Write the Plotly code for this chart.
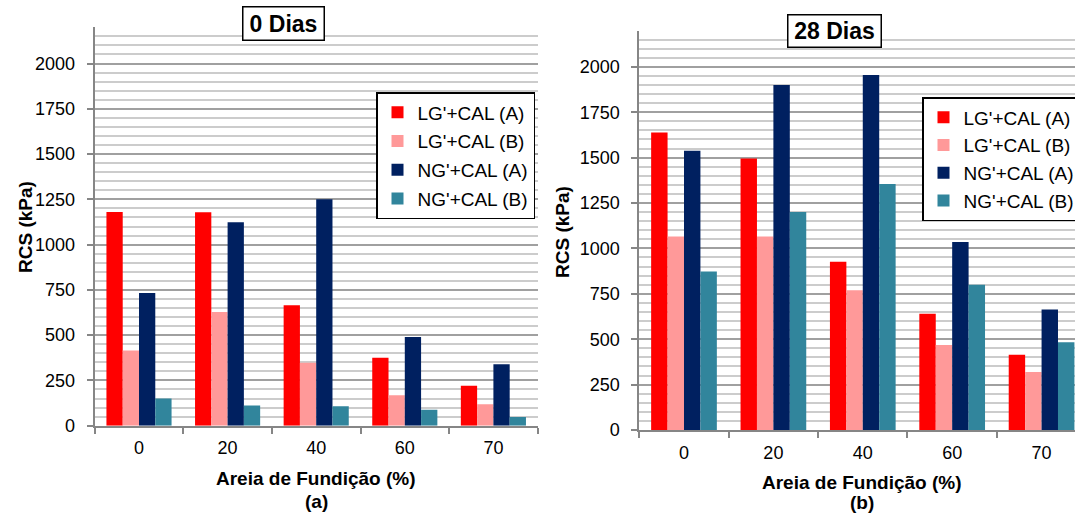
import plotly.graph_objects as go

# Sand content (%) on the category axis
categories = ["0", "20", "40", "60", "70"]

series_names = ["LG'+CAL (A)", "LG'+CAL (B)", "NG'+CAL (A)", "NG'+CAL (B)"]
series_colors = ["#FF0000", "#FF9999", "#002060", "#31859C"]

# Unconfined compressive strength (kPa), 0 days of curing
lg_a_0d = [1180, 1178, 665, 375, 220]
lg_b_0d = [415, 628, 348, 168, 118]
ng_a_0d = [733, 1123, 1250, 490, 340]
ng_b_0d = [150, 112, 108, 88, 48]

# Unconfined compressive strength (kPa), 28 days of curing
lg_a_28d = [1638, 1495, 927, 640, 415]
lg_b_28d = [1065, 1065, 770, 468, 320]
ng_a_28d = [1538, 1900, 1955, 1035, 663]
ng_b_28d = [873, 1200, 1355, 800, 483]

W, H = 1075, 514
FONT = "Liberation Sans, Arial, sans-serif"
AXIS_GREY = "#868686"


def px_x(x):
    return x / W


def px_y(y):
    return 1 - y / H


fig = go.Figure()

panels = [
    ("x", "y", "legend", [lg_a_0d, lg_b_0d, ng_a_0d, ng_b_0d]),
    ("x2", "y2", "legend2", [lg_a_28d, lg_b_28d, ng_a_28d, ng_b_28d]),
]
for xa, ya, leg, values in panels:
    for i, (name, color, vals) in enumerate(zip(series_names, series_colors, values)):
        fig.add_trace(go.Bar(
            x=categories, y=vals, name=name, marker=dict(color=color, line=dict(width=0)),
            xaxis=xa, yaxis=ya, legend=leg, legendgroup=f"{leg}-{i}",
        ))

common_x = dict(
    type="category", showline=True, linecolor=AXIS_GREY, linewidth=2,
    ticks="outside", tickson="boundaries", ticklen=6, tickwidth=2, tickcolor=AXIS_GREY,
    showgrid=False, zeroline=False, ticklabelstandoff=5,
    tickfont=dict(family=FONT, size=18, color="black"), fixedrange=True,
)
common_y = dict(
    range=[0, 2200], dtick=250, tick0=0, showline=True, linecolor=AXIS_GREY, linewidth=2,
    ticks="outside", ticklen=6, tickwidth=2, tickcolor=AXIS_GREY,
    showgrid=True, gridcolor="#A0A0A0", gridwidth=1.5, zeroline=False,
    minor=dict(dtick=50, showgrid=True, gridcolor="#CCCCCC", gridwidth=1.5, ticks=""),
    ticklabelstandoff=8,
    tickfont=dict(family=FONT, size=18, color="black"), fixedrange=True,
)

legend_common = dict(
    bgcolor="white", bordercolor="black", borderwidth=1.5,
    font=dict(family=FONT, size=19, color="black"),
    xanchor="left", yanchor="top", itemclick=False,
)

fig.update_layout(
    width=W, height=H, margin=dict(l=0, r=0, t=0, b=0, autoexpand=False),
    paper_bgcolor="white", plot_bgcolor="white",
    barmode="group", bargap=0.265, bargroupgap=0,
    xaxis=dict(common_x, domain=[px_x(94.7), px_x(537.7)], range=[-0.5, 4.5], anchor="y"),
    yaxis=dict(common_y, domain=[px_y(425.7), px_y(27.3)], anchor="x"),
    xaxis2=dict(common_x, domain=[px_x(639.3), 1.0], range=[-0.5, 4.374], anchor="y2"),
    yaxis2=dict(common_y, domain=[px_y(430.0), px_y(30.5)], anchor="x2"),
    legend=dict(legend_common, x=px_x(376), y=px_y(92), tracegroupgap=1),
    legend2=dict(legend_common, x=px_x(922), y=px_y(97), tracegroupgap=0),
    showlegend=True,
)

annotations = [
    # panel titles in boxes
    dict(text="<b>0 Dias</b>", x=px_x(283), y=px_y(23.8), width=80, height=32),
    dict(text="<b>28 Dias</b>", x=px_x(834.7), y=px_y(30.7), width=92, height=31),
]
for a in annotations:
    a.update(xref="paper", yref="paper", xanchor="center", yanchor="middle", showarrow=False,
             font=dict(family=FONT, size=23, color="black"), bgcolor="white",
             bordercolor="black", borderwidth=1.5, borderpad=0)

titles = [
    dict(text="<b>RCS (kPa)</b>", x=px_x(25.5), y=px_y(227.5), textangle=-90),
    dict(text="<b>RCS (kPa)</b>", x=px_x(563), y=px_y(232), textangle=-90),
    dict(text="<b>Areia de Fundição (%)</b>", x=px_x(316.2), y=px_y(478)),
    dict(text="<b>(a)</b>", x=px_x(316.2), y=px_y(501)),
    dict(text="<b>Areia de Fundição (%)</b>", x=px_x(861.7), y=px_y(482)),
    dict(text="<b>(b)</b>", x=px_x(861.7), y=px_y(502)),
]
for t in titles:
    t.update(xref="paper", yref="paper", xanchor="center", yanchor="middle", showarrow=False,
             font=dict(family=FONT, size=19, color="black"))

fig.update_layout(annotations=annotations + titles)

fig.write_html("out.html")
